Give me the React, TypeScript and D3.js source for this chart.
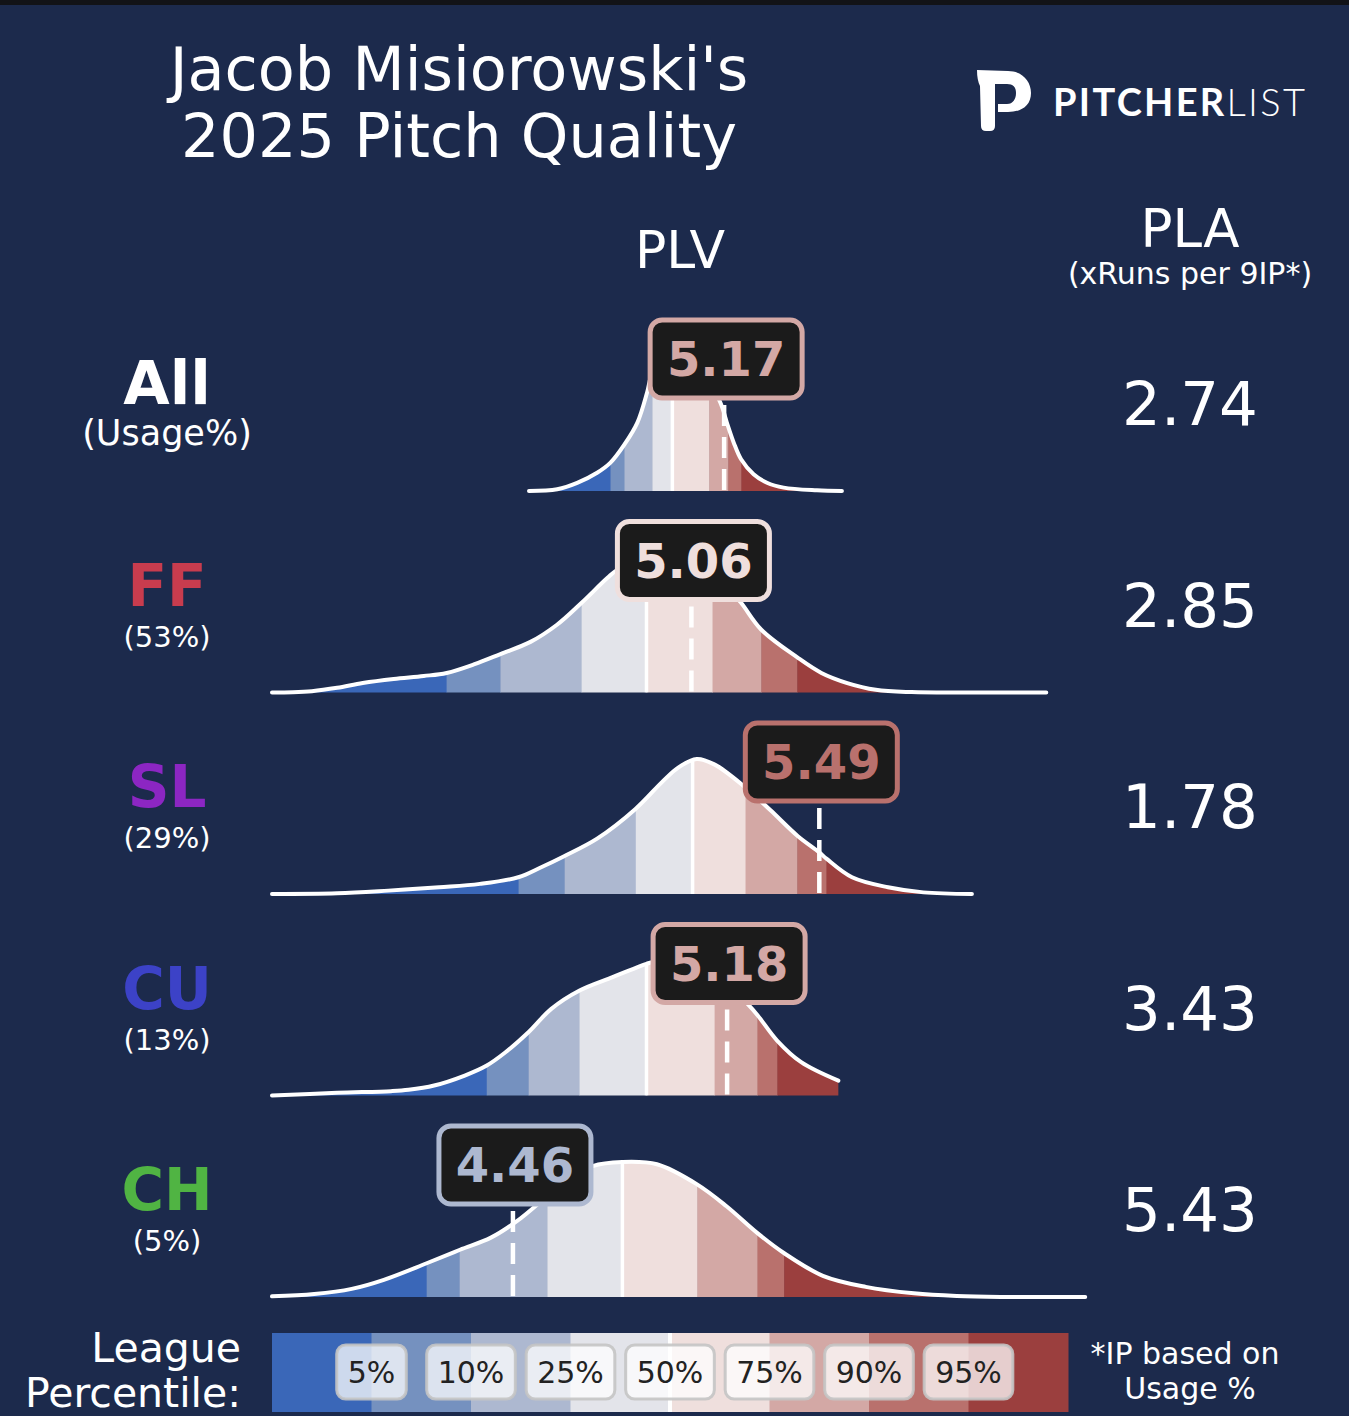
import React, { useEffect } from 'react';
import * as d3 from 'd3';

const W = 1349;
const H = 1416;
const BG = '#1c2a4c';
const FONT = '"DejaVu Sans", Verdana, sans-serif';

// rows
const pitchNames = ['All', 'FF', 'SL', 'CU', 'CH'];
const usageLabels = ['(Usage%)', '(53%)', '(29%)', '(13%)', '(5%)'];
const pitchColors = ['#ffffff', '#c83c4e', '#8c26c3', '#3c42c7', '#50b443'];
const plvValues = [5.17, 5.06, 5.49, 5.18, 4.46];
const plaValues = ['2.74', '2.85', '1.78', '3.43', '5.43'];

// league percentile cut points (5, 10, 25, 50, 75, 90, 95) in PLV
const percentileLabels = ['5%', '10%', '25%', '50%', '75%', '90%', '95%'];
const bandColors = ['#3a67b8', '#7591bf', '#adb8d0', '#e3e4ea', '#efdfdd', '#d3a8a5', '#b9716d', '#9b3f3e'];
const allPercentiles = [4.788, 4.835, 4.929, 4.996, 5.12, 5.184, 5.228];
const ffPercentiles = [4.237, 4.418, 4.691, 4.909, 5.131, 5.295, 5.416];
const slPercentiles = [4.479, 4.634, 4.873, 5.064, 5.242, 5.416, 5.514];
const cuPercentiles = [4.372, 4.513, 4.684, 4.909, 5.138, 5.282, 5.349];
const chPercentiles = [4.17, 4.281, 4.576, 4.828, 5.08, 5.282, 5.372];
const leaguePercentiles = [allPercentiles, ffPercentiles, slPercentiles, cuPercentiles, chPercentiles];

// density curves [PLV, relative density]
const allDensity = [
  [4.514, 0], [4.609, 0.013], [4.676, 0.06], [4.743, 0.135], [4.788, 0.21], [4.835, 0.345],
  [4.878, 0.505], [4.911, 0.73], [4.925, 0.85], [4.963, 0.98], [5.01, 1.0], [5.074, 0.92],
  [5.152, 0.68], [5.183, 0.48], [5.202, 0.36], [5.227, 0.235], [5.269, 0.124], [5.314, 0.061],
  [5.37, 0.025], [5.482, 0.005], [5.566, 0],
];
const ffDensity = [
  [3.65, 0], [3.72, 0.002], [3.784, 0.01], [3.869, 0.035], [3.955, 0.07], [4.059, 0.1], [4.16, 0.122],
  [4.237, 0.145], [4.331, 0.21], [4.418, 0.285], [4.519, 0.375], [4.607, 0.5], [4.691, 0.665],
  [4.778, 0.85], [4.812, 0.91], [4.9, 0.975], [4.99, 1.0], [5.09, 0.95], [5.16, 0.83],
  [5.225, 0.67], [5.295, 0.465], [5.416, 0.26], [5.497, 0.145], [5.584, 0.07], [5.68, 0.02],
  [5.8, 0.003], [6.0, 0], [6.253, 0],
];
const slDensity = [
  [3.65, 0], [3.869, 0.005], [4.041, 0.025], [4.212, 0.05], [4.349, 0.075], [4.478, 0.124],
  [4.555, 0.198], [4.632, 0.28], [4.743, 0.41], [4.872, 0.63], [4.966, 0.84], [5.018, 0.94],
  [5.078, 1.0], [5.137, 0.96], [5.241, 0.79], [5.326, 0.62], [5.417, 0.43], [5.489, 0.31],
  [5.515, 0.26], [5.6, 0.124], [5.721, 0.05], [5.84, 0.012], [6.003, 0],
];
const cuDensity = [
  [3.65, 0], [3.869, 0.02], [4.05, 0.032], [4.109, 0.042], [4.195, 0.074], [4.298, 0.148], [4.372, 0.222],
  [4.435, 0.32], [4.513, 0.47], [4.589, 0.642], [4.684, 0.778], [4.795, 0.877], [4.909, 0.975],
  [4.932, 0.99], [5.0, 1.0], [5.1, 0.97], [5.17, 0.85], [5.248, 0.68], [5.283, 0.593],
  [5.348, 0.407], [5.429, 0.247], [5.554, 0.11],
];
const chDensity = [
  [3.65, 0.005], [3.792, 0.022], [3.918, 0.06], [4.026, 0.127], [4.17, 0.25], [4.282, 0.35],
  [4.386, 0.44], [4.472, 0.56], [4.548, 0.697], [4.62, 0.84], [4.728, 0.97], [4.827, 1.0],
  [4.944, 0.983], [5.079, 0.834], [5.178, 0.672], [5.282, 0.473], [5.372, 0.324], [5.502, 0.157],
  [5.646, 0.075], [5.808, 0.027], [5.952, 0.007], [6.1, 0], [6.384, 0],
];
const densities = [allDensity, ffDensity, slDensity, cuDensity, chDensity];

const ROW_H = 135;

export default function App() {
  useEffect(() => {
    document.body.style.margin = '0';
    document.body.style.background = BG;
  }, []);

  const x = d3.scaleLinear().domain([3.65, 6.4]).range([272, 1090]);
  const rowBase = d3.scaleLinear().domain([0, pitchNames.length - 1]).range([491, 1297]);
  const legendX = d3.scaleLinear().domain([0, bandColors.length]).range([272, 1068]);
  const curve = d3.curveCatmullRom.alpha(0.5);

  const rows = pitchNames.map((name, i) => {
    const base = rowBase(i);
    const y = d3.scaleLinear().domain([0, 1]).range([base, base - ROW_H]).clamp(true);
    const area = d3.area<number[]>()
      .x(d => x(d[0]))
      .y0(base)
      .y1(d => y(d[1]))
      .curve(curve);
    const line = d3.line<number[]>()
      .x(d => x(d[0]))
      .y(d => y(d[1]))
      .curve(curve);
    const pct = leaguePercentiles[i];
    const bounds = [x.domain()[0], ...pct, x.domain()[1]];
    const val = plvValues[i];
    const valColor = bandColors[d3.bisectRight(pct, val)];
    const vx = x(val);
    const labelCy = base - 132;
    return (
      <g key={name}>
        <defs>
          <clipPath id={`clip-${i}`}>
            <path d={area(densities[i]) || ''} />
          </clipPath>
        </defs>
        <g clipPath={`url(#clip-${i})`}>
          {bandColors.map((c, j) => (
            <rect key={j} x={x(bounds[j])} y={base - ROW_H - 20}
              width={x(bounds[j + 1]) - x(bounds[j]) + 0.5} height={ROW_H + 22} fill={c} />
          ))}
          <line x1={x(pct[3])} x2={x(pct[3])} y1={base} y2={base - ROW_H - 10}
            stroke="#ffffff" strokeWidth={3.5} />
        </g>
        <path d={line(densities[i]) || ''} fill="none" stroke="#ffffff" strokeWidth={4}
          strokeLinejoin="round" strokeLinecap="round" />
        <line x1={vx} x2={vx} y1={labelCy + 46} y2={base} stroke="#ffffff" strokeWidth={4.5}
          strokeDasharray="21 11" />
        <rect x={vx + 2 - 76} y={labelCy - 39} width={152} height={78} rx={12}
          fill="#1b1b1b" stroke={valColor} strokeWidth={5} />
        <text x={vx + 2} y={labelCy + 17} textAnchor="middle" fontFamily={FONT}
          fontWeight="bold" fontSize={48} fill={valColor}>{val.toFixed(2)}</text>

        <text x={167} y={base - 87} textAnchor="middle" fontFamily={FONT} fontWeight="bold"
          fontSize={i === 0 ? 60 : 58} fill={pitchColors[i]}>{name}</text>
        <text x={167} y={base - 46} textAnchor="middle" fontFamily={FONT}
          fontSize={i === 0 ? 35 : 29} fill="#ffffff">{usageLabels[i]}</text>

        <text x={1190} y={base - 66} textAnchor="middle" fontFamily={FONT} fontSize={61}
          fill="#ffffff">{plaValues[i]}</text>
      </g>
    );
  });

  return (
    <div style={{ position: 'absolute', left: 0, top: 0, width: W, height: H }}>
      <svg width={W} height={H} viewBox={`0 0 ${W} ${H}`} style={{ display: 'block' }}>
        <rect x={0} y={0} width={W} height={H} fill={BG} />
        <rect x={0} y={0} width={W} height={5} fill="#121317" />

        {/* title */}
        <text x={459} y={90} textAnchor="middle" fontFamily={FONT} fontSize={60.5} fill="#ffffff">
          Jacob Misiorowski's
        </text>
        <text x={459} y={157} textAnchor="middle" fontFamily={FONT} fontSize={60.5} fill="#ffffff">
          2025 Pitch Quality
        </text>

        {/* logo */}
        <path
          d="M977 70 L1008 71 C1022 71 1031 81 1031 93 C1031 106 1021 112 1008 112 L998 112 L998 104 L1007 104 C1013 104 1016 99 1016 93 C1016 87 1013 84 1007 84 L995 84 L995 126 Q995 131 990 131 L986 131 Q981 131 981 126 L980 86 Q977 80 977 70 Z"
          fill="#ffffff" />
        <text x={1053} y={116} fontFamily="Lato, 'Open Sans', sans-serif" fontSize={38}
          fill="#ffffff" textLength={252} lengthAdjust="spacing">
          <tspan fontWeight={700}>PITCHER</tspan><tspan fontWeight={300}>LIST</tspan>
        </text>

        {/* headers */}
        <text x={680} y={268} textAnchor="middle" fontFamily={FONT} fontSize={52} fill="#ffffff">PLV</text>
        <text x={1190} y={247} textAnchor="middle" fontFamily={FONT} fontSize={53} fill="#ffffff">PLA</text>
        <text x={1190} y={284} textAnchor="middle" fontFamily={FONT} fontSize={30} fill="#ffffff">
          (xRuns per 9IP*)
        </text>

        {rows}

        {/* legend */}
        <text x={241} y={1362} textAnchor="end" fontFamily={FONT} fontSize={41} fill="#ffffff">League</text>
        <text x={241} y={1407} textAnchor="end" fontFamily={FONT} fontSize={41} fill="#ffffff">Percentile:</text>
        {bandColors.map((c, j) => (
          <rect key={j} x={legendX(j)} y={1333} width={legendX(j + 1) - legendX(j) + 0.5}
            height={79} fill={c} />
        ))}
        <line x1={legendX(4)} x2={legendX(4)} y1={1333} y2={1412} stroke="#ffffff" strokeWidth={4} />
        {percentileLabels.map((lab, j) => {
          const cx = legendX(j + 1);
          const w = 22 + 30 * (0.636 * (lab.length - 1) + 0.95);
          return (
            <g key={lab}>
              <rect x={cx - w / 2} y={1345} width={w} height={54} rx={9}
                fill="#ffffff" fillOpacity={0.75} stroke="#c4c4c4" strokeOpacity={0.9} strokeWidth={3} />
              <text x={cx} y={1383} textAnchor="middle" fontFamily={FONT} fontSize={30}
                fill="#222222">{lab}</text>
            </g>
          );
        })}
        <text x={1185} y={1364} textAnchor="middle" fontFamily={FONT} fontSize={30} fill="#ffffff">
          *IP based on
        </text>
        <text x={1190} y={1399} textAnchor="middle" fontFamily={FONT} fontSize={30} fill="#ffffff">
          Usage %
        </text>
      </svg>
    </div>
  );
}
